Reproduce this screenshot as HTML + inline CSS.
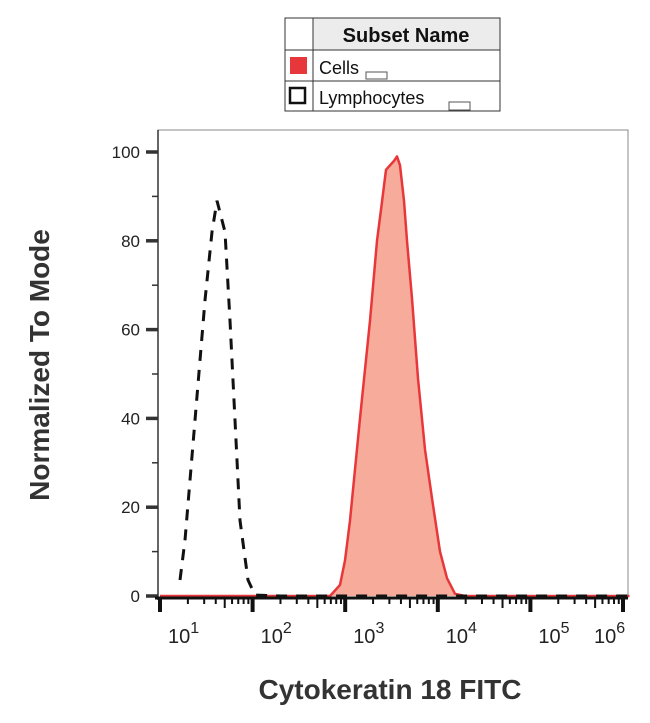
<!DOCTYPE html>
<html><head><meta charset="utf-8"><style>
body{margin:0;background:#fff;width:650px;height:718px;overflow:hidden;font-family:"Liberation Sans",sans-serif}
</style></head><body>
<svg width="650" height="718" viewBox="0 0 650 718">
<g>
<rect x="285" y="18" width="215" height="93" fill="#fff" stroke="#333" stroke-width="1"/>
<rect x="313.5" y="18.5" width="186" height="31" fill="#ececec"/>
<line x1="313" y1="18" x2="313" y2="111" stroke="#333"/>
<line x1="285" y1="50" x2="500" y2="50" stroke="#333"/>
<line x1="285" y1="81" x2="500" y2="81" stroke="#333"/>
<text x="406" y="42" font-size="20" font-weight="bold" text-anchor="middle" fill="#111">Subset Name</text>
<rect x="290" y="57" width="17" height="17" fill="#e8373a"/>
<text x="319" y="74" font-size="18" fill="#111">Cells</text>
<rect x="366" y="72" width="21" height="7" fill="#fff" stroke="#555" stroke-width="1"/>
<rect x="290" y="88" width="15" height="15" fill="#fff" stroke="#111" stroke-width="2.5"/>
<text x="319" y="104" font-size="18" fill="#111">Lymphocytes</text>
<rect x="449" y="102" width="21" height="8" fill="#fff" stroke="#555" stroke-width="1"/>
</g>
<rect x="158" y="130" width="470" height="467" fill="#fff" stroke="#888" stroke-width="1"/>
<g id="marks"></g>
<g id="axes"></g>
<text x="390" y="699" font-size="28" font-weight="bold" text-anchor="middle" fill="#333">Cytokeratin 18 FITC</text>
<text transform="translate(49,365) rotate(-90)" font-size="28" font-weight="bold" text-anchor="middle" fill="#333">Normalized To Mode</text>
</svg>
<script>
const cellsLogX=[1,2.7,2.836,2.944,2.998,3.052,3.160,3.268,3.343,3.387,3.441,3.484,3.527,3.559,3.592,3.635,3.667,3.721,3.786,3.862,3.937,4.024,4.099,4.186,4.294,6.07];
const cellsY=[0,0,0,2.5,8,17,40,62,80,87,96,97,98,99,97,89,80,67,49,33,22,10,4,0.5,0,0];
const lymphLogX=[1.216,1.27,1.378,1.486,1.562,1.616,1.702,1.756,1.81,1.864,1.95,2.026,2.3,3,4,5,6.07];
const lymphY=[3.6,12.6,39.6,66.6,82,89,82,62,39.6,17,3.6,0.2,0,0,0,0,0];
const yTicks=[0,20,40,60,80,100];
const xDecades=[1,2,3,4,5,6];
const NS="http://www.w3.org/2000/svg";
function sx(l){return 160+(l-1)*92.6;}
function sy(v){return 596-v*4.44;}
function mk(t,a){const e=document.createElementNS(NS,t);for(const k in a)e.setAttribute(k,a[k]);return e;}
const marks=document.getElementById('marks'),axes=document.getElementById('axes');
let d=cellsLogX.map((l,i)=>(i?'L':'M')+sx(l).toFixed(1)+','+sy(cellsY[i]).toFixed(1)).join(' ');
const fill=mk('path',{d:d+' Z',fill:'#f7ab9a',stroke:'none'});


marks.appendChild(fill);
const line=mk('path',{d:d,fill:'none',stroke:'#e8373a','stroke-width':2.5,'stroke-linejoin':'round'});


marks.appendChild(line);
let d2=lymphLogX.map((l,i)=>(i?'L':'M')+sx(l).toFixed(1)+','+sy(lymphY[i]).toFixed(1)).join(' ');
const ly=mk('path',{d:d2,fill:'none',stroke:'#111','stroke-width':3,'stroke-dasharray':'11,9'});


marks.appendChild(ly);
axes.appendChild(mk('line',{x1:158,y1:130,x2:158,y2:600,stroke:'#333','stroke-width':1.5}));
for(let v=0;v<=100;v+=10){axes.appendChild(mk('line',{x1:v%20?152:146,y1:sy(v),x2:158,y2:sy(v),stroke:'#333','stroke-width':v%20?1.5:3.5}));}
yTicks.forEach(v=>{const t=mk('text',{x:140,y:sy(v)+6,'font-size':17,'text-anchor':'end',fill:'#222'});t.textContent=v;


axes.appendChild(t);});
axes.appendChild(mk('line',{x1:155,y1:598,x2:628,y2:598,stroke:'#111','stroke-width':3}));
xDecades.forEach((dd,i)=>{
 axes.appendChild(mk('line',{x1:sx(dd),y1:597,x2:sx(dd),y2:612,stroke:'#111','stroke-width':4}));
 if(dd<6)for(let m=2;m<=9;m++){const x=sx(dd+Math.log10(m));axes.appendChild(mk('line',{x1:x,y1:597,x2:x,y2:m==5?608:604,stroke:'#111','stroke-width':2}));}
 const g=mk('text',{x:dd==6?594:sx(dd)+8,y:643,'font-size':20,fill:'#222'});
 
 
 g.textContent='10';
 const s=mk('tspan',{dy:-10,'font-size':16});s.textContent=dd;g.appendChild(s);axes.appendChild(g);
});
</script>
</body></html>
